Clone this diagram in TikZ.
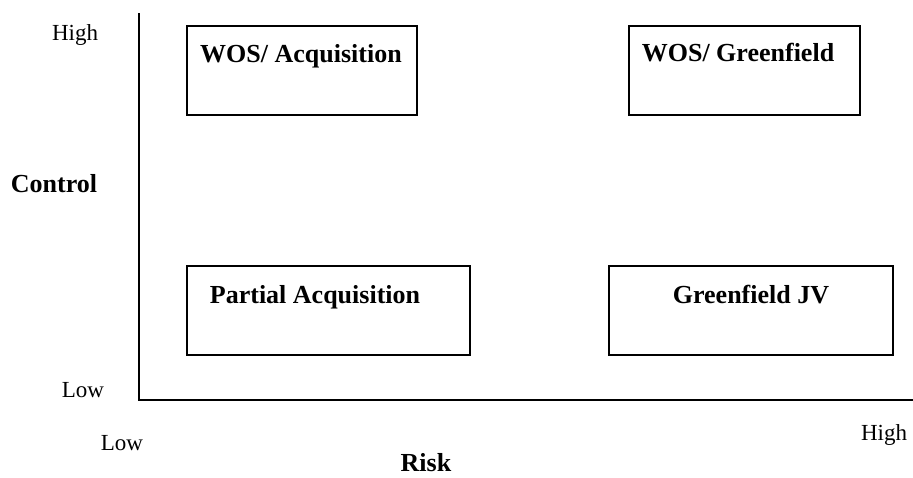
\documentclass[tikz,border=0pt]{standalone}
\usepackage{fontspec}
\setmainfont{Liberation Serif}
\begin{document}
\begin{tikzpicture}[
  x=1pt, y=-1pt,
  every node/.style={inner sep=0pt},
  quad/.style={rectangle, draw=black, line width=1.4pt, minimum height=89pt},
  tag/.style={anchor=base, font=\fontsize{23}{27}\selectfont},
  head/.style={anchor=base, font=\fontsize{26}{31}\selectfont\bfseries},
  axis/.style={draw=black, line width=1.6pt},
]
  \useasboundingbox (0,0) rectangle (913,477);
  % axes
  \coordinate (ytop) at (139,13);
  \coordinate (orig) at (139,400);
  \coordinate (xend) at (913,400);
  \draw[axis] (ytop) -- (orig) -- (xend);
  % quadrants
  \node[quad, minimum width=230pt] (wosacq) at (302,70.5) {};
  \node[quad, minimum width=231pt] (wosgrn) at (744.5,70.5) {};
  \node[quad, minimum width=283pt] (partacq) at (328.5,310.5) {};
  \node[quad, minimum width=284pt] (grnjv) at (751,310.5) {};
  \node[head] (wosacqtxt) at (301,62) {WOS/ Acquisition};
  \node[head] (wosgrntxt) at (738,61) {WOS/ Greenfield};
  \node[head] (partacqtxt) at (315,303) {Partial Acquisition};
  \node[head] (grnjvtxt) at (751,303) {Greenfield JV};
  % axis labels
  \node[tag] (yhigh) at (75,40) {High};
  \node[tag] (ylow) at (83,397) {Low};
  \node[head] (ctrl) at (54,192) {Control};
  \node[tag] (xlow) at (122,450) {Low};
  \node[tag] (xhigh) at (884,440) {High};
  \node[head] (risk) at (426,471) {Risk};
\end{tikzpicture}
\end{document}
